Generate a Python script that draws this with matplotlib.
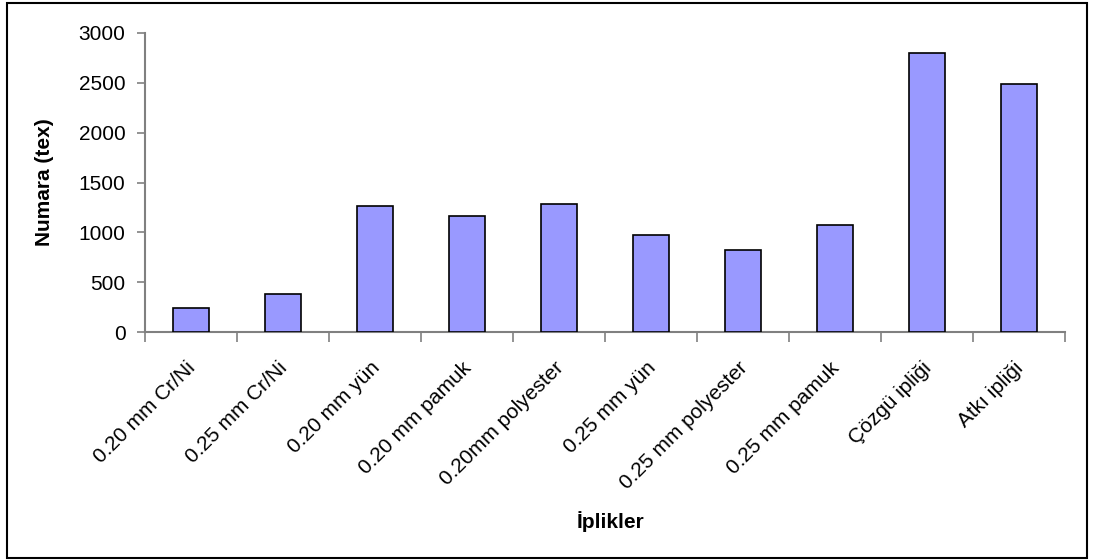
import matplotlib
matplotlib.use("Agg")
import matplotlib.pyplot as plt
import matplotlib.transforms as mtransforms
from matplotlib.patches import Rectangle

categories = ["0.20 mm Cr/Ni", "0.25 mm Cr/Ni", "0.20 mm yün", "0.20 mm pamuk",
              "0.20mm polyester", "0.25 mm yün", "0.25 mm polyester", "0.25 mm pamuk",
              "Çözgü ipliği", "Atkı ipliği"]
values = [240, 380, 1260, 1160, 1280, 975, 820, 1070, 2800, 2490]
yticks = [0, 500, 1000, 1500, 2000, 2500, 3000]

plt.rcParams['font.family'] = ['Liberation Sans', 'DejaVu Sans']

W, H = 1093, 560
fig = plt.figure(figsize=(W / 100, H / 100), dpi=100)
ax = fig.add_axes([145 / W, 1 - 332 / H, 920 / W, 299 / H])

x = range(len(categories))
ax.bar(x, values, width=0.4, color='#9999ff', edgecolor='black', linewidth=1.2, zorder=3)

ax.set_xlim(-0.5, len(categories) - 0.5)
ax.set_ylim(0, 3000)
ax.set_yticks(yticks)
ax.set_yticklabels([str(v) for v in yticks], fontsize=15)

# x ticks between categories (Excel style)
ax.set_xticks([i - 0.5 for i in range(len(categories) + 1)], minor=False)
ax.set_xticklabels([])
ax.set_xticks(list(x), minor=True)
ax.set_xticklabels(categories, minor=True, rotation=45, ha='right',
                   rotation_mode='anchor', fontsize=15)
ax.tick_params(axis='x', which='minor', length=0, pad=19)
ax.tick_params(axis='both', which='major', color='#808080', width=1.2)
ax.tick_params(axis='y', length=6, direction='out', pad=8)
ax.tick_params(axis='x', which='major', length=7, direction='out')

offset = mtransforms.ScaledTranslation(-5 / 100, 0, fig.dpi_scale_trans)
for lbl in ax.get_xticklabels(minor=True):
    lbl.set_transform(lbl.get_transform() + offset)

for s in ['top', 'right']:
    ax.spines[s].set_visible(False)
for s in ['left', 'bottom']:
    ax.spines[s].set_color('#808080')
    ax.spines[s].set_linewidth(1.5)

ax.set_ylabel("Numara (tex)", fontsize=15, fontweight='bold', va='center')
ax.yaxis.set_label_coords((45 - 145) / 920, 0.5)
ax.set_xlabel("İplikler", fontsize=15, fontweight='bold', va='center')
ax.xaxis.set_label_coords((611 - 145) / 920, (332 - 522) / 299)

fig.patches.append(Rectangle((7 / W, 2 / H), 1080 / W, 555 / H, transform=fig.transFigure,
                             fill=False, edgecolor='black', linewidth=1.5))

fig.savefig("out.png", dpi=100)
